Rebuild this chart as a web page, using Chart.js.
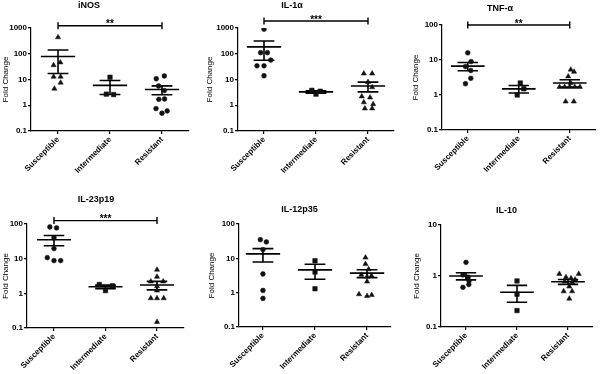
<!DOCTYPE html>
<html><head><meta charset="utf-8">
<script src="https://cdn.jsdelivr.net/npm/chart.js@4.4.0/dist/chart.umd.min.js"></script>
<style>
html,body{margin:0;padding:0;background:#fff;width:600px;height:374px;overflow:hidden;}
canvas{position:absolute;}
</style></head><body>
<canvas id="c0"></canvas><canvas id="c1"></canvas><canvas id="c2"></canvas>
<canvas id="c3"></canvas><canvas id="c4"></canvas><canvas id="c5"></canvas>
<script>
// ---------- data ----------
const categories = ['Susceptible', 'Intermediate', 'Resistant'];
const panelTitles = ['iNOS', 'IL-1\u03b1', 'TNF-\u03b1', 'IL-23p19', 'IL-12p35', 'IL-10'];
const yAxisTitle = 'Fold Change';
const ticks1000 = [0.1, 1, 10, 100, 1000];
const ticks100 = [0.1, 1, 10, 100];
const ticks10 = [0.1, 1, 10];
const sigLabels = ['**', '***', '**', '***', '', ''];

const iNOS_susceptible = [435, 46, 36, 12.8, 12.8, 7.5, 4.4];
const iNOS_intermediate = [12.2, 2.7, 2.6];
const iNOS_resistant = [13.7, 10.7, 5.6, 3.7, 1.75, 1.7, 0.74, 0.6, 0.49];
const iNOS_mean = [78, 5.9, 4.1];
const iNOS_sem = [61, 3.3, 1.55];

const IL1a_susceptible = [900, 110, 110, 57, 34, 34, 14];
const IL1a_intermediate = [3.8, 3.5, 2.7];
const IL1a_resistant = [17, 17, 8, 5, 2.2, 2.0, 1.3, 1.1, 0.75, 0.75];
const IL1a_mean = [185, 3.3, 5.6];
const IL1a_sem = [129, 0.35, 2.3];

const TNFa_susceptible = [16, 9, 6.5, 5, 3, 2.1];
const TNFa_intermediate = [2.2, 1.5, 1.0];
const TNFa_resistant = [5.3, 4.6, 3.4, 2.2, 1.7, 1.7, 1.7, 1.7, 1.7, 0.65, 0.65];
const TNFa_mean = [6.7, 1.5, 2.2];
const TNFa_sem = [1.75, 0.36, 0.52];

const IL23_susceptible = [82, 77, 40, 19.5, 10.7, 8.8, 8.8];
const IL23_intermediate = [1.8, 1.65, 1.2];
const IL23_resistant = [4.8, 3.0, 2.2, 2.2, 1.6, 1.2, 0.72, 0.72, 0.72, 0.15];
const IL23_mean = [35, 1.55, 1.74];
const IL23_sem = [11.5, 0.18, 0.48];

const IL12_susceptible = [35, 30, 18, 3.5, 1.16, 0.68];
const IL12_intermediate = [8.5, 4.0, 1.3];
const IL12_resistant = [10.5, 6.8, 4.8, 3.3, 3.1, 2.9, 2.1, 0.9, 0.8, 0.85];
const IL12_mean = [13.5, 4.6, 3.7];
const IL12_sem = [5.7, 2.15, 0.95];

const IL10_susceptible = [1.85, 1.05, 0.95, 0.8, 0.68, 0.6];
const IL10_intermediate = [0.8, 0.44, 0.21];
const IL10_resistant = [1.1, 1.1, 0.95, 0.9, 0.85, 0.78, 0.75, 0.62, 0.5, 0.5, 0.36];
const IL10_mean = [1.0, 0.48, 0.77];
const IL10_sem = [0.16, 0.175, 0.085];

// horizontal spread of the dots inside each column (category units)
const iNOS_spread = [[0, 0.045, -0.085, -0.085, 0.05, 0.05, -0.07], [0, -0.07, 0.07], [0.045, -0.11, -0.065, 0.045, 0.05, -0.06, -0.115, 0.1, 0]];
const IL1a_spread = [[0, -0.065, 0.065, 0.13, -0.135, 0, 0], [-0.08, 0.08, 0], [-0.08, 0.08, 0, 0.08, -0.12, 0.04, -0.08, 0.1, -0.06, 0.08]];
const TNFa_spread = [[0, 0.065, -0.045, 0.06, 0.06, -0.045], [0.03, 0.1, -0.03], [0.02, 0.085, -0.03, 0.02, -0.2, -0.1, 0, 0.1, 0.2, -0.08, 0.08]];
const IL23_spread = [[-0.08, 0.05, 0, 0, -0.13, 0, 0.13], [-0.12, 0.135, 0], [0, 0, -0.12, 0.12, 0, 0, -0.12, 0, 0.13, 0]];
const IL12_spread = [[-0.05, 0.065, 0, 0, 0, 0], [0, 0, 0], [-0.03, -0.03, 0.03, -0.11, 0.085, 0, 0, -0.155, 0, 0.09]];
const IL10_spread = [[0, -0.06, 0.04, 0.06, 0.055, -0.06], [0, 0, 0], [-0.17, 0.21, -0.04, 0.06, 0.14, -0.065, 0.08, 0.025, -0.085, 0.08, 0.025]];

// ---------- styling / layout ----------
const FONT = '"Liberation Sans", Arial, Helvetica, sans-serif';
const MEAN_HALF = 0.33, CAP_HALF = 0.2;
const styleA = ['triangle', 'rect', 'circle'];
const styleB = ['circle', 'rect', 'triangle'];
const radiusFor = { circle: 2.4, rect: 3.2, triangle: 3.0 };

const panels = [
  { groups: [iNOS_susceptible, iNOS_intermediate, iNOS_resistant], spread: iNOS_spread, mean: iNOS_mean, sem: iNOS_sem, styles: styleA, ticks: ticks1000,
    L: { left: 0, top: 0, w: 200, h: 187, yW: 31, xH: 56, pad: { top: 28, right: 11, bottom: 0, left: 0 }, xMin: 0.48, xMax: 3.52, tx: 89, ty: 6, bDy: -2.3 } },
  { groups: [IL1a_susceptible, IL1a_intermediate, IL1a_resistant], spread: IL1a_spread, mean: IL1a_mean, sem: IL1a_sem, styles: styleB, ticks: ticks1000,
    L: { left: 204, top: 0, w: 196, h: 187, yW: 34, xH: 56, pad: { top: 28, right: 6, bottom: 0, left: 0 }, xMin: 0.5, xMax: 3.5, tx: 88, ty: 6, bDy: -7 } },
  { groups: [TNFa_susceptible, TNFa_intermediate, TNFa_resistant], spread: TNFa_spread, mean: TNFa_mean, sem: TNFa_sem, styles: styleB, ticks: ticks100,
    L: { left: 410, top: 0, w: 190, h: 187, yW: 32, xH: 57, pad: { top: 25, right: 3, bottom: 0, left: 0 }, xMin: 0.495, xMax: 3.505, tx: 90, ty: 9, bDy: 0 } },
  { groups: [IL23_susceptible, IL23_intermediate, IL23_resistant], spread: IL23_spread, mean: IL23_mean, sem: IL23_sem, styles: styleB, ticks: ticks100,
    L: { left: 0, top: 187, w: 200, h: 187, yW: 27, xH: 46, pad: { top: 37, right: 16, bottom: 0, left: 0 }, xMin: 0.476, xMax: 3.524, tx: 96, ty: 13, bDy: -3.4 } },
  { groups: [IL12_susceptible, IL12_intermediate, IL12_resistant], spread: IL12_spread, mean: IL12_mean, sem: IL12_sem, styles: styleB, ticks: ticks100,
    L: { left: 206, top: 187, w: 194, h: 187, yW: 33, xH: 47, pad: { top: 37, right: 9, bottom: 0, left: 0 }, xMin: 0.54, xMax: 3.46, tx: 93.5, ty: 23, bDy: 0 } },
  { groups: [IL10_susceptible, IL10_intermediate, IL10_resistant], spread: IL10_spread, mean: IL10_mean, sem: IL10_sem, styles: styleB, ticks: ticks10,
    L: { left: 411, top: 187, w: 189, h: 187, yW: 30, xH: 47, pad: { top: 38, right: 7, bottom: 0, left: 0 }, xMin: 0.51, xMax: 3.49, tx: 95.5, ty: 24, bDy: 0 } }
];

const panelTitlePlugin = {
  id: 'panelTitle',
  afterDraw(chart, args, opts) {
    const ctx = chart.ctx;
    ctx.save();
    ctx.fillStyle = '#000';
    ctx.font = 'bold 9px ' + FONT;
    ctx.textAlign = 'center';
    ctx.textBaseline = 'middle';
    ctx.fillText(opts.text, opts.x, opts.y);
    ctx.restore();
  }
};

const sigBracketPlugin = {
  id: 'sigBracket',
  afterDatasetsDraw(chart, args, opts) {
    if (!opts.text) return;
    const xs = chart.scales.x;
    const ctx = chart.ctx;
    const x1 = xs.getPixelForValue(opts.from), x2 = xs.getPixelForValue(opts.to);
    const y = chart.chartArea.top + opts.dy;
    ctx.save();
    ctx.strokeStyle = '#000';
    ctx.lineWidth = 1.4;
    ctx.beginPath();
    ctx.moveTo(x1, y); ctx.lineTo(x2, y);
    ctx.moveTo(x1, y - 3.5); ctx.lineTo(x1, y + 3.5);
    ctx.moveTo(x2, y - 3.5); ctx.lineTo(x2, y + 3.5);
    ctx.stroke();
    ctx.fillStyle = '#000';
    ctx.font = 'bold 10px ' + FONT;
    ctx.textAlign = 'center';
    ctx.textBaseline = 'alphabetic';
    ctx.fillText(opts.text, (x1 + x2) / 2, y + 1.5);
    ctx.restore();
  }
};

function errorBars(means, sems) {
  const pts = [];
  means.forEach((m, i) => {
    const c = i + 1, s = sems[i];
    pts.push({ x: c - MEAN_HALF, y: m }, { x: c + MEAN_HALF, y: m }, { x: c, y: null });
    pts.push({ x: c - CAP_HALF, y: m + s }, { x: c + CAP_HALF, y: m + s }, { x: c, y: null });
    pts.push({ x: c - CAP_HALF, y: m - s }, { x: c + CAP_HALF, y: m - s }, { x: c, y: null });
    pts.push({ x: c, y: m + s }, { x: c, y: m - s }, { x: c, y: null });
  });
  return pts;
}

panels.forEach((p, k) => {
  const L = p.L;
  const cv = document.getElementById('c' + k);
  cv.width = L.w; cv.height = L.h;
  cv.style.left = L.left + 'px'; cv.style.top = L.top + 'px';
  cv.style.width = L.w + 'px'; cv.style.height = L.h + 'px';

  const datasets = p.groups.map((vals, g) => ({
    label: categories[g],
    data: vals.map((v, i) => ({ x: g + 1 + p.spread[g][i], y: v })),
    pointStyle: p.styles[g],
    pointRadius: radiusFor[p.styles[g]],
    backgroundColor: '#111',
    borderColor: '#111',
    borderWidth: 0.5,
    showLine: false
  }));
  datasets.push({
    label: 'mean \u00b1 SEM',
    data: errorBars(p.mean, p.sem),
    showLine: true,
    spanGaps: false,
    pointRadius: 0,
    borderColor: '#000',
    borderWidth: 1.6,
    borderCapStyle: 'butt'
  });

  new Chart(cv, {
    type: 'scatter',
    data: { datasets },
    plugins: [panelTitlePlugin, sigBracketPlugin],
    options: {
      responsive: false,
      animation: false,
      devicePixelRatio: 1,
      events: [],
      layout: { padding: L.pad },
      plugins: {
        legend: { display: false },
        tooltip: { enabled: false },
        title: { display: false },
        panelTitle: { text: panelTitles[k], x: L.tx, y: L.ty },
        sigBracket: { text: sigLabels[k], from: 1, to: 3, dy: L.bDy }
      },
      scales: {
        x: {
          type: 'linear',
          min: L.xMin, max: L.xMax,
          afterBuildTicks: (axis) => { axis.ticks = categories.map((c, i) => ({ value: i + 1 })); },
          afterFit: (axis) => { axis.height = L.xH; },
          ticks: {
            autoSkip: false, minRotation: 45, maxRotation: 45, padding: 1,
            color: '#000', font: { family: FONT, size: 8, weight: 'bold' },
            callback: (v) => categories[Math.round(v) - 1] || ''
          },
          grid: { drawOnChartArea: false, drawTicks: true, tickLength: 3, color: '#000', lineWidth: 1.2 },
          border: { display: true, color: '#000', width: 1.2 }
        },
        y: {
          type: 'logarithmic',
          min: p.ticks[0], max: p.ticks[p.ticks.length - 1],
          afterBuildTicks: (axis) => { axis.ticks = p.ticks.map(v => ({ value: v, major: true })); },
          afterFit: (axis) => { axis.width = L.yW; },
          ticks: {
            padding: 1, color: '#000', font: { family: FONT, size: 8, weight: 'bold' },
            callback: (v) => String(v)
          },
          grid: { drawOnChartArea: false, drawTicks: true, tickLength: 3, color: '#000', lineWidth: 1.2 },
          border: { display: true, color: '#000', width: 1.2 },
          title: { display: true, text: yAxisTitle, color: '#000', padding: { top: 1, bottom: 0 }, font: { family: FONT, size: 8 } }
        }
      }
    }
  });
});
</script>
</body></html>
